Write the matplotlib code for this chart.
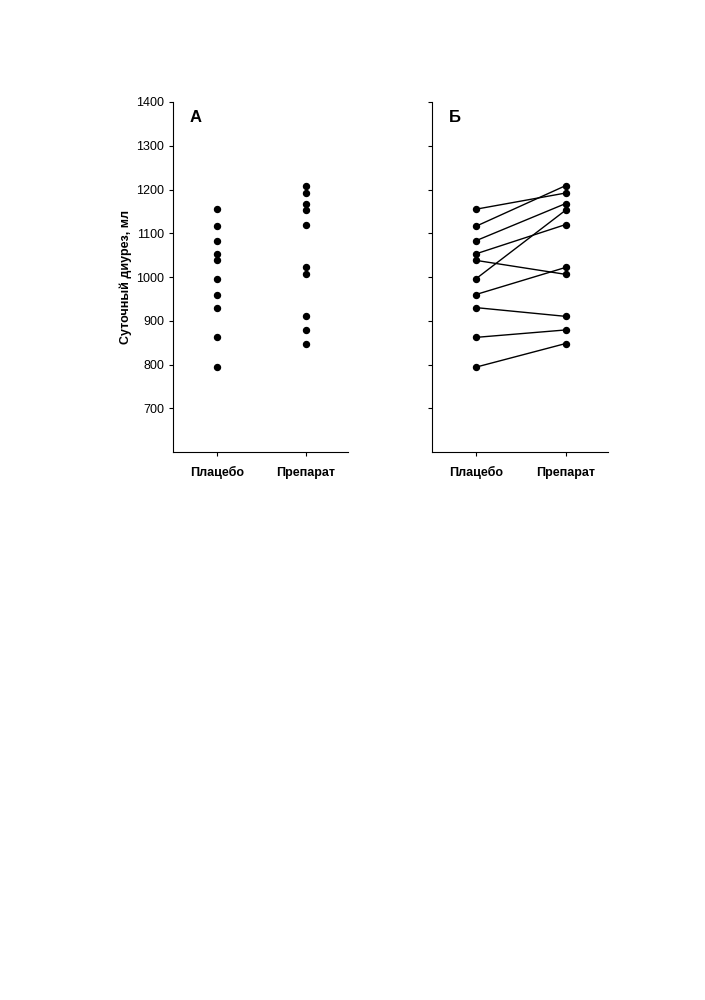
import matplotlib.pyplot as plt

plt.rcParams['font.family'] = ['Liberation Sans', 'DejaVu Sans']

groups = ['Плацебо', 'Препарат']
placebo = [1155, 1116, 1083, 1053, 1038, 996, 960, 930, 862, 794]
# paired values of the drug for the same patients, same order as placebo
drug = [1192, 1209, 1168, 1120, 1006, 1153, 1022, 910, 879, 848]
yticks = [700, 800, 900, 1000, 1100, 1200, 1300, 1400]

fig = plt.figure(figsize=(7.05, 10), dpi=100)
axA = fig.add_axes([0.2454, 0.548, 0.2482, 0.350])
axB = fig.add_axes([0.6128, 0.548, 0.2496, 0.350])

# A: two independent samples
axA.plot([1] * len(placebo), placebo, 'o', color='black', ms=4.3)
axA.plot([2] * len(drug), drug, 'o', color='black', ms=4.3)

# Б: the same patients, lines join pairs
for p, d in zip(placebo, drug):
    axB.plot([1, 2], [p, d], '-o', color='black', ms=4.3, lw=1.0)

for ax, letter in ((axA, 'А'), (axB, 'Б')):
    ax.set_xlim(0.51, 2.47)
    ax.set_ylim(600, 1400)
    ax.set_yticks(yticks)
    ax.set_xticks([1, 2])
    ax.set_xticklabels(groups, fontsize=9, fontweight='bold', va='baseline')
    ax.spines['top'].set_visible(False)
    ax.spines['right'].set_visible(False)
    ax.tick_params(direction='out', length=3, width=0.8, labelsize=9)
    ax.tick_params(axis='x', pad=14)
    ax.text(0.13, 0.955, letter, transform=ax.transAxes, fontsize=12,
            fontweight='bold', ha='center', va='center')

axA.set_ylabel('Суточный диурез, мл', fontsize=9, fontweight='bold', labelpad=3)
axB.set_yticklabels([])

fig.savefig('out.png', dpi=100)
